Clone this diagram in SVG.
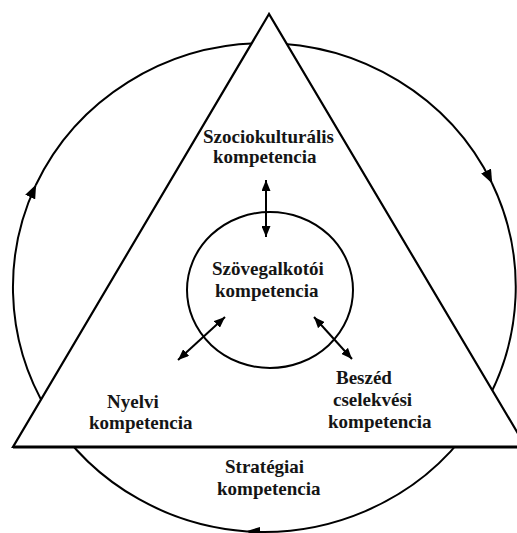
<svg xmlns="http://www.w3.org/2000/svg" width="517" height="533" viewBox="0 0 517 533">
  <style>
    .ln { fill: none; stroke: #000; stroke-width: 2; }
    .lbl { font-family: "Liberation Serif", "Times New Roman", serif; font-weight: bold; font-size: 19px; fill: #151515; }
  </style>
  <defs>
    <marker id="head" markerUnits="userSpaceOnUse" markerWidth="11" markerHeight="9" refX="11" refY="4.5" orient="auto-start-reverse">
      <path d="M0,0 L11,4.5 L0,9 z" fill="#000"/>
    </marker>
    <marker id="flow" markerUnits="userSpaceOnUse" markerWidth="14" markerHeight="11" refX="13" refY="5.5" orient="auto">
      <path d="M0,0 L14,5.5 L0,11 z" fill="#000"/>
    </marker>
  </defs>

  <rect width="517" height="533" fill="#fff"/>

  <!-- outer strategic cycle, running clockwise -->
  <g id="strategy-cycle">
    <path class="ln" d="M35.7,185.3 A252,245 0 0 1 491.8,182.7" marker-end="url(#flow)"/>
    <path class="ln" d="M491.8,182.7 A252,245 0 0 1 247.1,531.4" marker-end="url(#flow)"/>
    <path class="ln" d="M247.1,531.4 A252,245 0 0 1 35.7,185.3" marker-end="url(#flow)"/>
  </g>

  <!-- competence triangle -->
  <g id="triangle">
    <polygon points="269,14 13,447 526,447" fill="#fff" stroke="#000" stroke-width="2.2" stroke-linejoin="miter"/>
    <line x1="13" y1="447" x2="517" y2="447" stroke="#000" stroke-width="2.8"/>
  </g>

  <!-- central text-building competence -->
  <g id="core">
    <ellipse class="ln" cx="270" cy="290" rx="83" ry="78"/>
    <text class="lbl" x="212" y="275">Szövegalkotói</text>
    <text class="lbl" x="215" y="297">kompetencia</text>
  </g>

  <g id="sociocultural">
    <text class="lbl" x="203" y="143">Szociokulturális</text>
    <text class="lbl" x="213" y="163">kompetencia</text>
  </g>

  <g id="linguistic">
    <text class="lbl" x="107" y="408">Nyelvi</text>
    <text class="lbl" x="89" y="429">kompetencia</text>
  </g>

  <g id="speech-act">
    <text class="lbl" x="336" y="384">Beszéd</text>
    <text class="lbl" x="333" y="406">cselekvési</text>
    <text class="lbl" x="328" y="428">kompetencia</text>
  </g>

  <g id="strategic">
    <text class="lbl" x="225" y="473">Stratégiai</text>
    <text class="lbl" x="217" y="495">kompetencia</text>
  </g>

  <!-- two-way links between the core and the corners -->
  <g id="connectors">
    <line class="ln" x1="266" y1="180" x2="266" y2="237" marker-start="url(#head)" marker-end="url(#head)"/>
    <line class="ln" x1="225" y1="317" x2="178" y2="360" marker-start="url(#head)" marker-end="url(#head)"/>
    <line class="ln" x1="314" y1="317" x2="352" y2="359" marker-start="url(#head)" marker-end="url(#head)"/>
  </g>
</svg>
